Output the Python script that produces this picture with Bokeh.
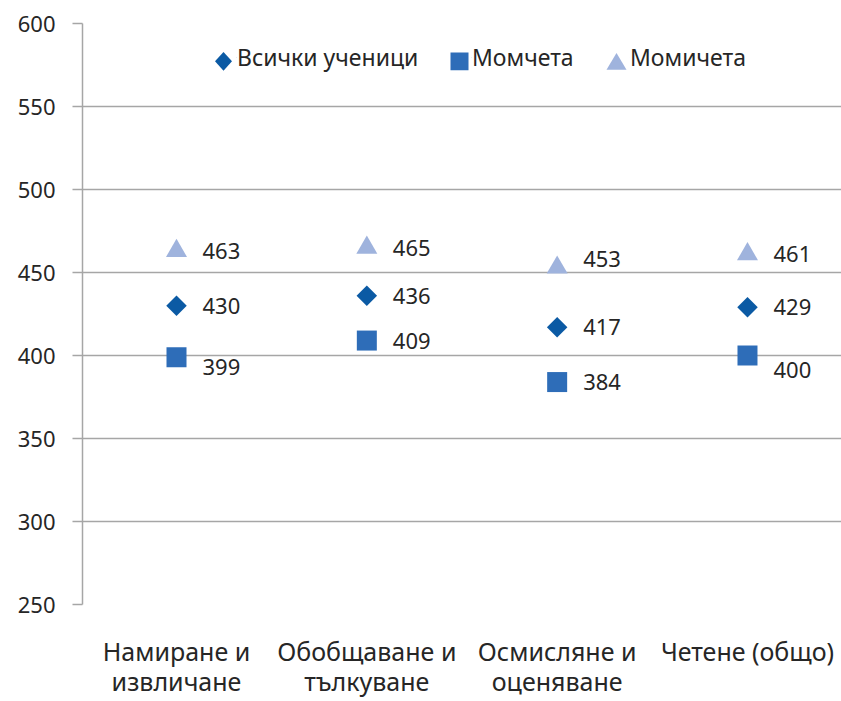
import math
from bokeh.plotting import figure
from bokeh.models import Range1d, FixedTicker, Legend, LegendItem, ColumnDataSource, PolyAnnotation
from bokeh.core.properties import value
from bokeh.embed import file_html
from bokeh.resources import INLINE

# ---- data ----
categories = ["Намиране и\nизвличане", "Обобщаване и\nтълкуване", "Осмисляне и\nоценяване", "Четене (общо)"]
all_students = [430, 436, 417, 429]
boys = [399, 409, 384, 400]
girls = [463, 465, 453, 461]
y_ticks = [250, 300, 350, 400, 450, 500, 550, 600]
series_names = ["Всички ученици", "Момчета", "Момичета"]

# ---- style / layout ----
FONT = "Noto Sans"
TEXT = "#262626"
GRID = "#A6A6A6"
C_ALL = "#0B5AA4"
C_BOYS = "#2E6DB8"
C_GIRLS = "#9FB3DD"
boys_label_dy = [10, 0, 0, 14]
girls_label_dy = [0, 0, -9, 0]

W, H = 841, 701
LEFT, TOP, BOTTOM = 82, 23, 606
FRAME_W, FRAME_H = W - LEFT, BOTTOM - TOP
PX_PER_CAT = 190.33
X_START = 0.5 - 94 / PX_PER_CAT
X_END = X_START + FRAME_W / PX_PER_CAT

xs = [i + 0.5 for i in range(len(categories))]

p = figure(width=W, height=H, output_backend="svg", toolbar_location=None,
           x_range=Range1d(X_START, X_END), y_range=Range1d(y_ticks[0], y_ticks[-1]),
           min_border_left=LEFT, min_border_right=0, min_border_top=TOP,
           min_border_bottom=H - BOTTOM)
p.outline_line_color = None
p.background_fill_color = "white"
p.border_fill_color = "white"

# axes
p.yaxis.ticker = FixedTicker(ticks=y_ticks)
p.yaxis.axis_line_color = GRID
p.yaxis.axis_line_width = 1.5
p.yaxis.major_tick_line_color = GRID
p.yaxis.major_tick_line_width = 1.5
p.yaxis.major_tick_out = 10
p.yaxis.major_tick_in = 0
p.yaxis.minor_tick_line_color = None
p.yaxis.major_label_standoff = 17
p.yaxis.major_label_text_font = FONT
p.yaxis.major_label_text_font_size = "22px"
p.yaxis.major_label_text_color = TEXT

p.xaxis.ticker = FixedTicker(ticks=xs)
p.xaxis.major_label_overrides = {x: c for x, c in zip(xs, categories)}
p.xaxis.axis_line_color = None
p.xaxis.major_tick_line_color = None
p.xaxis.minor_tick_line_color = None
p.xaxis.major_label_standoff = 23
p.xaxis.major_label_text_font = FONT
p.xaxis.major_label_text_font_size = "25px"
p.xaxis.major_label_text_color = TEXT
p.xaxis.major_label_text_line_height = 0.9

p.xgrid.grid_line_color = None
p.ygrid.ticker = FixedTicker(ticks=y_ticks)
p.ygrid.grid_line_color = GRID
p.ygrid.grid_line_width = 1.5

src = ColumnDataSource(dict(x=xs, all=all_students, boys=boys, girls=girls,
                            all_t=[str(v) for v in all_students],
                            boys_t=[str(v) for v in boys],
                            girls_t=[str(v) for v in girls],
                            boys_dy=boys_label_dy, girls_dy=girls_label_dy))

r_girls = p.scatter("x", "girls", source=src, marker="triangle", size=21,
                    fill_color=C_GIRLS, line_color=None)
r_all = p.scatter("x", "all", source=src, marker="square", angle=math.pi / 4, size=14.5,
                  fill_color=C_ALL, line_color=None)
r_boys = p.scatter("x", "boys", source=src, marker="square", size=20,
                   fill_color=C_BOYS, line_color=None)

common = dict(source=src, x_offset=26, text_align="left", text_baseline="middle",
              text_font=value(FONT), text_font_size="22px", text_color=TEXT)
p.text("x", "girls", text="girls_t", y_offset="girls_dy", **common)
p.text("x", "all", text="all_t", **common)
p.text("x", "boys", text="boys_t", y_offset="boys_dy", **common)

# ---- legend (labels through Legend, glyph shapes drawn at legend slots) ----
def to_data(px, py):
    return (X_START + (px - LEFT) / FRAME_W * (X_END - X_START),
            y_ticks[-1] - (py - TOP) / FRAME_H * (y_ticks[-1] - y_ticks[0]))

LEG_Y = 61
ROW_H = 28

def add_label(name, rend, text_x):
    lg = Legend(items=[LegendItem(label=name, renderers=[rend])],
                orientation="horizontal",
                location=(text_x - LEFT - 1, FRAME_H - (LEG_Y - TOP) - ROW_H / 2),
                border_line_color=None, background_fill_alpha=0,
                padding=0, margin=0, glyph_width=1, glyph_height=ROW_H,
                label_height=ROW_H, label_standoff=0,
                label_text_font=FONT, label_text_font_size="23px",
                label_text_color=TEXT, label_text_baseline="middle")
    p.add_layout(lg)

def add_shape(pts, color):
    d = [to_data(px, py) for px, py in pts]
    p.add_layout(PolyAnnotation(xs=[a for a, _ in d], ys=[b for _, b in d],
                                fill_color=color, fill_alpha=1, line_color=None))

# diamond
cx = 223
add_shape([(cx, LEG_Y - 9.5), (cx + 8.5, LEG_Y), (cx, LEG_Y + 9.5), (cx - 8.5, LEG_Y)], C_ALL)
add_label(series_names[0], r_all, 237)
# square
cx = 459
add_shape([(cx - 9, LEG_Y - 9), (cx + 9, LEG_Y - 9), (cx + 9, LEG_Y + 9), (cx - 9, LEG_Y + 9)], C_BOYS)
add_label(series_names[1], r_boys, 472)
# triangle
cx = 616
add_shape([(cx - 10, LEG_Y + 8.5), (cx + 10, LEG_Y + 8.5), (cx, LEG_Y - 8.5)], C_GIRLS)
add_label(series_names[2], r_girls, 630)

open("out.html", "w").write(file_html(p, INLINE))
